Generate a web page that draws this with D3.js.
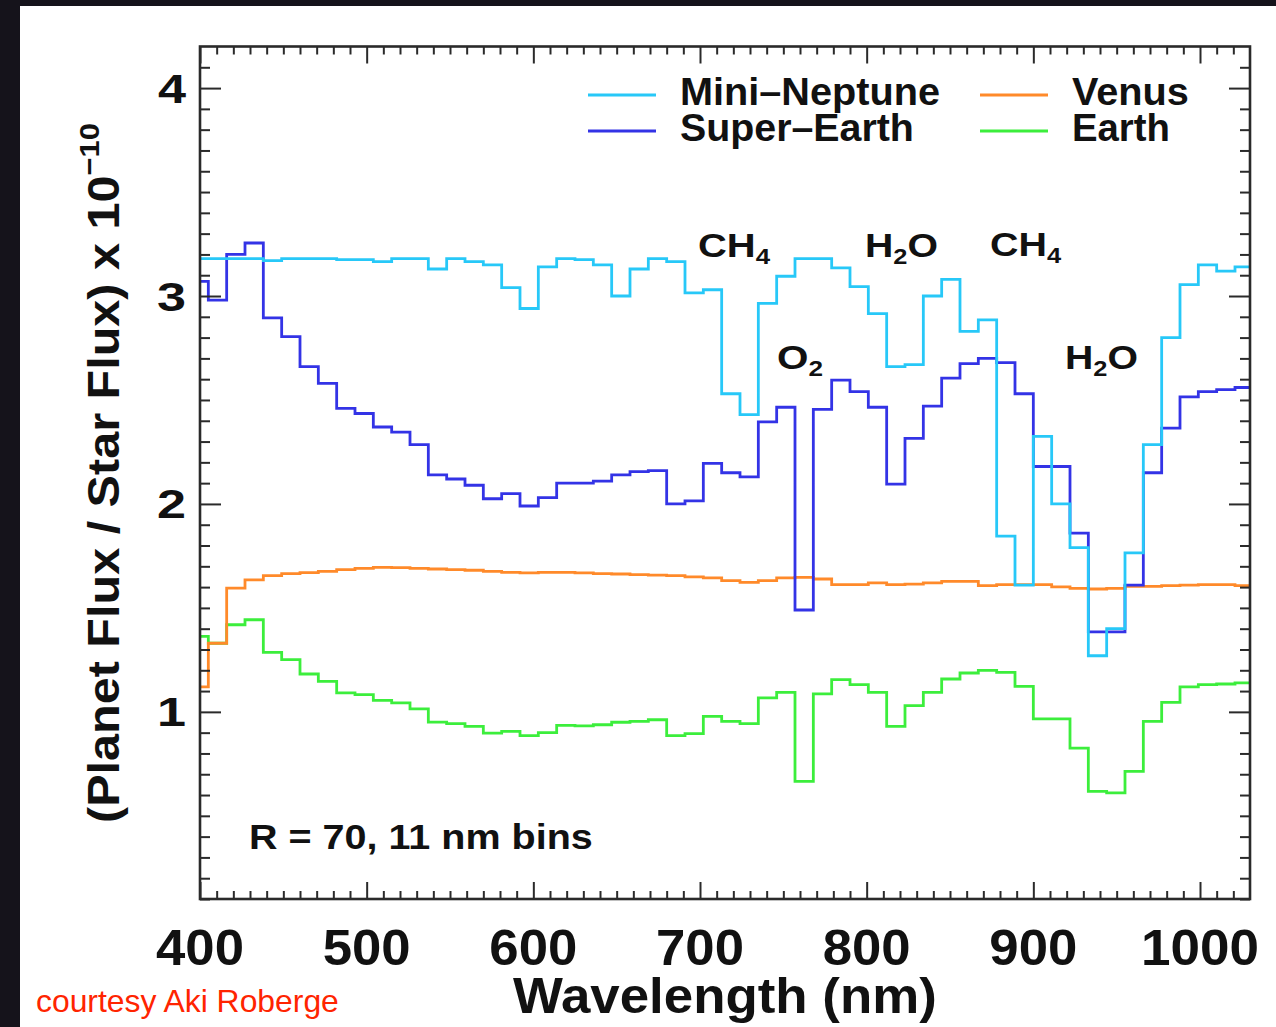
<!DOCTYPE html>
<html><head><meta charset="utf-8">
<script src="https://cdn.jsdelivr.net/npm/d3@7"></script>
<style>html,body{margin:0;padding:0;background:#15131b;overflow:hidden}</style>
</head><body>
<svg id="c" width="1276" height="1027"></svg>
<script>
// ---- data ----
const binEdges = [394,405,416,427,438,449,460,471,482,493,504,515,526,537,548,559,570,581,592,603,614,625,636,647,658,669,680,691,702,713,724,735,746,757,768,779,790,801,812,823,834,845,856,867,878,889,900,911,922,933,944,955,966,977,988,999,1010,1021];
const binEnd = 1032;
const miniNeptune = [3.18,3.18,3.18,3.18,3.17,3.18,3.18,3.18,3.175,3.175,3.165,3.18,3.18,3.13,3.18,3.165,3.15,3.04,2.94,3.14,3.18,3.175,3.15,3.00,3.13,3.18,3.165,3.015,3.03,2.53,2.43,2.965,3.095,3.18,3.18,3.135,3.045,2.915,2.66,2.67,3.00,3.08,2.83,2.885,1.845,1.61,2.325,2.00,1.79,1.27,1.40,1.765,2.285,2.80,3.055,3.15,3.12,3.14];
const superEarth = [3.07,2.98,3.20,3.255,2.895,2.805,2.66,2.58,2.46,2.435,2.37,2.345,2.285,2.14,2.12,2.09,2.025,2.05,1.99,2.03,2.10,2.10,2.11,2.14,2.155,2.16,2.00,2.015,2.195,2.15,2.13,2.395,2.465,1.49,2.455,2.595,2.54,2.465,2.095,2.315,2.47,2.605,2.675,2.70,2.68,2.53,2.18,2.18,1.86,1.385,1.385,1.61,2.15,2.365,2.515,2.54,2.55,2.56];
const venus = [1.12,1.33,1.595,1.635,1.655,1.665,1.67,1.676,1.684,1.69,1.695,1.694,1.69,1.687,1.684,1.681,1.676,1.671,1.668,1.671,1.671,1.668,1.665,1.663,1.66,1.658,1.655,1.649,1.644,1.631,1.623,1.631,1.644,1.647,1.639,1.612,1.612,1.62,1.612,1.614,1.62,1.628,1.628,1.607,1.612,1.612,1.612,1.601,1.594,1.591,1.594,1.604,1.604,1.607,1.61,1.612,1.612,1.607];
const earth = [1.363,1.33,1.419,1.443,1.286,1.251,1.182,1.147,1.091,1.083,1.055,1.043,1.014,0.951,0.943,0.93,0.898,0.906,0.886,0.90,0.935,0.933,0.938,0.95,0.954,0.962,0.886,0.895,0.978,0.954,0.943,1.067,1.094,0.666,1.087,1.155,1.131,1.094,0.93,1.03,1.094,1.158,1.187,1.20,1.19,1.123,0.966,0.966,0.826,0.618,0.61,0.714,0.954,1.046,1.12,1.131,1.134,1.139];
const seriesNames = ["Mini\u2013Neptune","Super\u2013Earth","Venus","Earth"];
const xTickLabels = [400,500,600,700,800,900,1000];
const yTickLabels = [1,2,3,4];
const annotations = [
  {main:"CH", sub:"4", tail:""},
  {main:"H", sub:"2", tail:"O"},
  {main:"CH", sub:"4", tail:""},
  {main:"O", sub:"2", tail:""},
  {main:"H", sub:"2", tail:"O"}
];

// ---- layout ----
const svg = d3.select("#c");
const W = 1276, H = 1027;
const L = 200, R = 1250, T = 46.5, B = 899;
const x = d3.scaleLinear().domain([400,1030]).range([L,R]);
const y = d3.scaleLinear().domain([0.1,4.2]).range([B,T]);
const FONT = "'Liberation Sans', Arial, Helvetica, sans-serif";
const INK = "#111";

svg.append("rect").attr("width",W).attr("height",H).attr("fill","#15131b");
svg.append("rect").attr("x",20).attr("y",6).attr("width",W-20).attr("height",H-6).attr("fill","#fff");

// clip
svg.append("defs").append("clipPath").attr("id","plot")
  .append("rect").attr("x",L).attr("y",T).attr("width",R-L).attr("height",B-T);

// series
const colors = {miniNeptune:"#27c8f8", superEarth:"#3333e6", venus:"#ff8a2a", earth:"#3cee3c"};
function stepData(vals){
  const pts = binEdges.map((e,i)=>[e, vals[i]]);
  pts.push([binEnd, vals[vals.length-1]]);
  return pts;
}
const line = d3.line().x(d=>x(d[0])).y(d=>y(d[1])).curve(d3.curveStepAfter);
const gLines = svg.append("g").attr("clip-path","url(#plot)");
[["earth",earth],["venus",venus],["superEarth",superEarth],["miniNeptune",miniNeptune]].forEach(([k,v])=>{
  gLines.append("path").attr("d", line(stepData(v)))
    .attr("fill","none").attr("stroke",colors[k]).attr("stroke-width",2.8)
    .attr("stroke-linejoin","miter");
});

// axes ticks (inside, mirrored)
const xMajor = xTickLabels;
const xMinor = d3.range(410,1030,10).filter(v=>v%100!==0);
const yMajor = yTickLabels;
const yMinor = d3.range(1,42).map(v=>v/10).filter(v=>Math.abs(v-Math.round(v))>1e-6);
function tickAxis(axisFn, scale, vals, size, transform){
  const g = svg.append("g").attr("transform",transform)
    .call(axisFn(scale).tickValues(vals).tickSize(size).tickFormat(""));
  g.select(".domain").remove();
  g.selectAll("line").attr("stroke","#2a2a2a").attr("stroke-width",2);
}
tickAxis(d3.axisBottom, x, xMajor, -17, `translate(0,${B})`);
tickAxis(d3.axisBottom, x, xMinor, -8, `translate(0,${B})`);
tickAxis(d3.axisTop, x, xMajor, -17, `translate(0,${T})`);
tickAxis(d3.axisTop, x, xMinor, -8, `translate(0,${T})`);
tickAxis(d3.axisLeft, y, yMajor, -21, `translate(${L},0)`);
tickAxis(d3.axisLeft, y, yMinor, -10, `translate(${L},0)`);
tickAxis(d3.axisRight, y, yMajor, -21, `translate(${R},0)`);
tickAxis(d3.axisRight, y, yMinor, -10, `translate(${R},0)`);

svg.append("rect").attr("x",L).attr("y",T).attr("width",R-L).attr("height",B-T)
  .attr("fill","none").attr("stroke","#2a2a2a").attr("stroke-width",2.6);

// text helper: place text then stretch horizontally to a target width
function fitText(parent, build, tx, ty, targetW, anchor, rotate){
  const g = parent.append("g");
  const t = g.append("text").attr("font-family",FONT).attr("fill",INK)
     .attr("text-anchor",anchor||"start");
  build(t);
  const w = t.node().getBBox().width;
  const s = targetW ? targetW / w : 1;
  g.attr("transform",`translate(${tx},${ty})${rotate?` rotate(${rotate})`:""} scale(${s},1)`);
  return g;
}

// y tick labels
yTickLabels.forEach(v=>{
  fitText(svg, t=>t.attr("font-size",40).attr("font-weight","bold").text(v),
    186, y(v)+14.5, 29, "end");
});
// x tick labels
xTickLabels.forEach(v=>{
  const s = String(v);
  fitText(svg, t=>t.attr("font-size",50).attr("font-weight","bold").text(s),
    x(v), 965, s.length===3?88:118, "middle");
});

// axis titles
fitText(svg, t=>t.attr("font-size",50).attr("font-weight","bold").text("Wavelength (nm)"),
  513, 1013, 424, "start");
fitText(svg, t=>{
  t.attr("font-size",44).attr("font-weight","bold");
  t.append("tspan").text("(Planet Flux / Star Flux) x 10");
  t.append("tspan").attr("font-size",28).attr("dy",-20).text("\u221210");
}, 119, 823, 700, "start", -90);

// legend
const legendItems = [
  {name:seriesNames[0], c:colors.miniNeptune, lx:588, tx:680, y:95, w:260},
  {name:seriesNames[1], c:colors.superEarth, lx:588, tx:680, y:131, w:234},
  {name:seriesNames[2], c:colors.venus, lx:980, tx:1072, y:95, w:117},
  {name:seriesNames[3], c:colors.earth, lx:980, tx:1072, y:131, w:98}
];
legendItems.forEach(d=>{
  svg.append("line").attr("x1",d.lx).attr("x2",d.lx+68).attr("y1",d.y).attr("y2",d.y)
    .attr("stroke",d.c).attr("stroke-width",3);
  fitText(svg, t=>t.attr("font-size",39).attr("font-weight","bold").text(d.name),
    d.tx, d.y+10, d.w, "start");
});

// molecule annotations
const annPos = [[698,257,73],[865,257,73],[990,256,72],[777,369,46],[1065,369,73]];
annotations.forEach((a,i)=>{
  const p = annPos[i];
  fitText(svg, t=>{
    t.attr("font-size",34).attr("font-weight","bold");
    t.append("tspan").text(a.main);
    t.append("tspan").attr("font-size",22).attr("dy",7).text(a.sub);
    if (a.tail) t.append("tspan").attr("dy",-7).text(a.tail);
  }, p[0], p[1], p[2], "start");
});

// resolution note
fitText(svg, t=>t.attr("font-size",35).attr("font-weight","bold").text("R = 70, 11 nm bins"),
  249, 849, 344, "start");

// credit
fitText(svg, t=>t.attr("font-size",32).attr("fill","#ff2400").text("courtesy Aki Roberge"),
  36, 1012, 303, "start");
</script>
</body></html>
